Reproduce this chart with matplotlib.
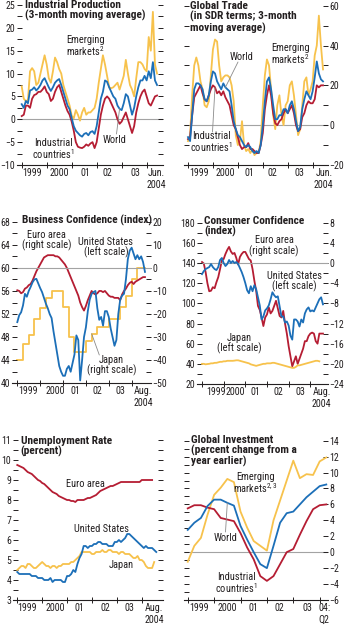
import numpy as np
import matplotlib.pyplot as plt
from matplotlib.ticker import MultipleLocator

plt.rcParams['font.family'] = ['Roboto Condensed', 'DejaVu Sans']
plt.rcParams['mathtext.fontset'] = 'custom'
plt.rcParams['mathtext.rm'] = 'Roboto Condensed'
plt.rcParams['mathtext.default'] = 'rm'
plt.rcParams['font.size'] = 7.5

BLUE = '#1c6fb8'
RED = '#b51d33'
GOLD = '#f7c24c'
GREY = '#a3a3a3'
INK = '#231f20'

# ---------------- data ----------------
# industrial production, 3-month moving average, Jan 1999 - Jun 2004
ip_emerging = [7.2, 4.5, 4.0, 4.2, 10.5, 11.2, 10.5, 7.5, 8.0, 10.0, 12.0, 14.0,
               12.0, 9.0, 8.0, 10.5, 13.5, 12.5, 11.0, 10.0, 7.5, 6.0, 4.5, 3.0,
               0.8, 0.2, 2.0, 1.0, -0.3, 1.5, 2.5, 1.0, 1.5, 1.5, 2.0, 2.5,
               4.5, 8.0, 11.0, 14.0, 12.0, 9.5, 7.0, 6.8, 7.0, 7.5, 8.0, 6.5,
               8.0, 9.5, 13.0, 10.0, 7.5, 6.5, 5.0, 9.0, 12.5, 12.5, 12.0, 11.0,
               10.5, 18.0, 15.0, 23.5, 12.0, 10.0]
ip_world = [3.3, 2.5, 4.0, 3.5, 6.3, 6.5, 7.0, 6.3, 6.8, 7.5, 8.5, 9.0,
            8.0, 7.0, 6.2, 7.0, 8.0, 8.5, 8.8, 7.5, 6.0, 4.5, 3.0, 2.2,
            0.3, -1.5, -2.5, -3.0, -3.5, -3.8, -3.2, -3.0, -3.5, -2.8, -2.6, -3.2,
            -1.5, 1.5, 4.5, 6.0, 8.5, 8.2, 7.0, 6.0, 5.0, 4.5, 3.0, 2.3,
            2.0, 3.5, 5.5, 5.0, 3.0, 1.0, 2.5, 5.0, 7.0, 8.5, 8.5, 9.5,
            8.5, 10.5, 9.0, 12.5, 8.5, 7.5]
ip_industrial = [0.7, 1.0, 3.0, 3.0, 2.5, 4.5, 5.3, 5.5, 6.0, 6.0, 6.5, 7.2,
                 6.0, 5.5, 4.0, 4.5, 6.0, 7.0, 7.5, 6.0, 4.5, 3.0, 1.8, 1.0,
                 -0.5, -2.5, -5.0, -6.0, -6.2, -6.3, -6.0, -5.5, -5.8, -5.3, -5.0, -6.3,
                 -5.0, -2.0, 1.0, 3.0, 4.5, 5.0, 4.5, 3.5, 2.5, 1.5, 0.0, -1.0,
                 -0.5, 0.5, 1.5, 0.0, -1.5, -3.0, -1.5, 1.5, 3.5, 5.0, 6.0, 6.5,
                 5.0, 3.5, 3.0, 4.0, 5.0, 5.2]

# global trade in SDR terms, Jan 1999 - Jun 2004
tr_emerging = [-8, -5, 15, 30, 34, 30, 22, 18, 10, 9, 12, 25,
               38, 43, 42, 30, 22, 24, 25, 25, 24, 20, 12, -5,
               -10, -8, 2, -10, -13, -12, -14, -12, -15, -14, -14, -8,
               10, 25, 33, 30, 18, 5, -2, 10, 15, 5, 0, 10,
               12, 20, 22, 15, 5, -5, -2, 10, 22, 24, 15, 18,
               22, 35, 40, 55, 40, 28]
tr_world = [-6, -8, 5, 18, 21, 21, 20, 18, 13, 12, 15, 22,
            27, 26, 22, 20, 18, 21, 19, 18, 17, 10, 2, -2,
            -5, -6, -8, -10, -11, -10, -11, -13, -14, -13, -14, -10,
            0, 12, 22, 24, 18, 10, 3, 3, 5, 5, 8, 8,
            6, 10, 12, 8, 2, -3, -1, 8, 13, 17, 15, 13,
            17, 24, 32, 26, 23, 22]
tr_industrial = [-7, -6, 5, 14, 16, 18, 20, 16, 13, 12, 15, 18,
                 20, 19, 16, 17, 15, 17, 14, 12, 10, 5, 0, -2,
                 -6, -10, -12, -11, -11, -9, -12, -12, -13, -14, -14, -10,
                 -4, 8, 15, 20, 15, 6, 1, 0, 2, 3, 6, 8,
                 6, 8, 10, 6, 0, -3, -2, 4, 6, 10, 12, 11,
                 11, 13, 20, 19, 20, 20]

# business confidence, Jan 1999 - Aug 2004 (Japan quarterly)
bc_us = [50.6, 51.8, 52.3, 53.5, 55.5, 55.0, 56.0, 56.7, 57.5, 58.0, 58.1, 57.3,
         56.5, 55.8, 54.8, 53.8, 53.0, 52.0, 51.3, 49.0, 47.0, 45.0, 43.0, 42.0,
         41.3, 41.3, 42.5, 43.0, 42.0, 43.5, 45.0, 48.3, 47.5, 40.5, 44.0, 48.0,
         49.7, 52.5, 54.5, 55.5, 55.8, 56.0, 53.0, 51.0, 51.5, 50.0, 52.5, 52.5,
         51.5, 49.5, 48.0, 46.5, 47.5, 52.0, 54.5, 55.2, 55.5, 58.0, 61.5, 63.0,
         63.5, 62.5, 61.5, 62.2, 61.5, 62.0, 61.0, 59.3]
bc_euro = [-9.7, -10, -11, -10.5, -9, -8.5, -7.5, -7, -5.5, -3.5, -1.5, 0,
           1.5, 3, 4.5, 5, 5.5, 5.5, 5.5, 5.5, 5, 5, 4.5, 3.5,
           2.5, 1.5, 0, -2, -4, -6, -8, -10, -12, -15, -17, -18.5,
           -16.5, -14, -12, -10, -11, -11.5, -11, -10, -10, -10.5, -10, -11,
           -12, -12.5, -12.5, -13, -13, -13, -14, -11.5, -10, -9, -7.5, -6.5,
           -6, -7, -6, -5.5, -5, -4.5, -4, -4]
bc_japan = [-40, -33, -29, -22, -17.5, -13, -10, -10, -17, -30, -36.5, -36.5,
            -31.5, -28.5, -25.5, -25.5, -22, -22, -17, -12, -5, 0, 0]

# consumer confidence, Jan 1999 - Aug 2004
cc_us = [129, 132, 134, 135, 136, 139, 136, 134, 133, 136, 143, 145,
         140, 137, 139, 143, 140, 142, 140, 141, 139, 135, 131, 126,
         120, 113, 110, 117, 112, 118, 114, 106, 98, 84, 87, 93,
         95, 98, 104, 111, 108, 106, 107, 97, 87, 87, 81, 82,
         78, 68, 64, 84, 84, 82, 77, 84, 81, 90, 94, 96,
         92, 93, 92, 96, 100, 104, 106, 99]
cc_euro = [0.2, -0.1, -1.8, -4.0, -5.6, -5.5, -4.8, -5.0, -3.8, -2.8, -1.2, 0.5,
           0.8, 1.8, 2.6, 3.2, 2.3, 1.8, 2.0, 1.0, -0.3, 1.2, 1.8, 2.2,
           2.2, 1.5, 0.8, 0.5, -1.2, -3.5, -5.5, -8.5, -9.3, -10.8, -12.5, -10.8,
           -10.2, -8.8, -10.0, -9.5, -8.5, -7.5, -9.0, -10.5, -10.8, -9.5, -12.0, -14.0,
           -16.5, -18.5, -20.5, -19.5, -18.5, -20.0, -19.0, -18.0, -17.0, -15.5, -15.5, -14.5,
           -14.0, -13.8, -14.0, -15.5, -16.0, -14.0, -14.0, -14.0]
cc_japan = [40, 40, 39.5, 39.8, 40, 40.5, 40.5, 41, 41, 41.5, 42, 42,
            42.5, 42.5, 43, 43, 43, 43, 43.2, 43.5, 43.5, 43, 42.5, 42,
            41.5, 41, 40.5, 39.5, 39, 38.5, 38, 38.5, 39, 39.5, 40, 40,
            40.5, 40.5, 40.5, 41, 41, 40.5, 40, 39.5, 39, 38.5, 38, 37.5,
            37, 36.5, 36, 36, 37, 38.5, 38.5, 39, 39.5, 40, 40.5, 41,
            41.5, 42, 42.5, 43, 43, 42.5]

# unemployment rate, percent
un_euro = [9.75, 9.7, 9.65, 9.6, 9.5, 9.4, 9.35, 9.3, 9.2, 9.1, 9.0, 8.95,
           8.85, 8.8, 8.7, 8.6, 8.5, 8.4, 8.35, 8.3, 8.2, 8.15, 8.1, 8.05,
           8.0, 8.0, 7.95, 7.95, 7.9, 8.0, 8.0, 8.0, 8.0, 8.05, 8.1, 8.1,
           8.15, 8.2, 8.25, 8.35, 8.45, 8.5, 8.55, 8.6, 8.65, 8.7, 8.7, 8.75,
           8.8, 8.85, 8.9, 8.9, 8.9, 8.9, 8.9, 8.9, 8.9, 8.9, 8.9, 8.9,
           9.0, 9.0, 9.0, 9.0, 9.0, 9.0]
un_us = [4.4, 4.3, 4.3, 4.3, 4.3, 4.3, 4.3, 4.2, 4.2, 4.2, 4.1, 4.1,
         4.1, 4.0, 4.0, 4.0, 4.1, 3.9, 4.0, 4.0, 4.0, 4.0, 3.9, 3.9,
         4.2, 4.2, 4.3, 4.5, 4.4, 4.8, 5.1, 5.3, 5.7, 5.7, 5.6, 5.7,
         5.7, 5.8, 5.8, 5.9, 5.9, 5.8, 5.8, 5.8, 5.7, 5.7, 5.7, 5.9,
         5.9, 6.0, 5.9, 6.0, 6.1, 6.3, 6.3, 6.2, 6.1, 6.0, 5.9, 5.8,
         5.7, 5.6, 5.7, 5.6, 5.6, 5.6, 5.5, 5.4]
un_japan = [4.5, 4.6, 4.7, 4.7, 4.6, 4.8, 4.8, 4.7, 4.6, 4.6, 4.7, 4.8,
            4.9, 4.8, 4.7, 4.7, 4.6, 4.7, 4.7, 4.6, 4.7, 4.7, 4.8, 4.8,
            4.8, 4.8, 4.9, 4.9, 5.0, 5.1, 5.2, 5.4, 5.4, 5.4, 5.4, 5.4,
            5.3, 5.3, 5.4, 5.4, 5.4, 5.5, 5.4, 5.4, 5.5, 5.5, 5.4, 5.4,
            5.4, 5.3, 5.4, 5.4, 5.3, 5.3, 5.3, 5.2, 5.1, 5.1, 5.2, 5.0,
            5.0, 4.9, 4.7, 4.6, 4.6, 4.6, 4.9]

# global investment, percent change from a year earlier, 1999:Q1 - 2004:Q2
inv_emerging = [-1.2, 0.8, 1.8, 4.7, 7.2, 8.1, 9.2, 8.8, 5.1, 3.1, 1.4, 0.8,
                0.2, 4.0, 6.5, 9.0, 11.5, 9.3, 9.8, 9.7, 11.4, 11.9]
inv_world = [2.8, 3.7, 4.3, 5.8, 6.6, 6.6, 6.2, 5.85, 3.3, 1.6, 0.0, -1.5,
             -2.0, 0.8, 3.7, 4.9, 5.1, 6.0, 6.9, 7.6, 8.3, 8.5]
inv_industrial = [5.5, 5.9, 5.9, 5.6, 5.4, 4.3, 4.1, 3.9, 2.4, 0.6, -0.9, -3.0,
                  -3.6, -3.0, -1.5, 0.0, 0.4, 2.2, 3.9, 5.4, 5.9, 6.0]

labels_jun = ['1999', '2000', '01', '02', '03', 'Jun.\n2004']
labels_aug = ['1999', '2000', '01', '02', '03', 'Aug.\n2004']
labels_q2 = ['1999', '2000', '01', '02', '03', '04:\nQ2']

# ---------------- layout helpers (pixel geometry) ----------------
W, H = 344, 625
fig = plt.figure(figsize=(W / 100, H / 100), dpi=100)


def make_axes(x0, x1, y0, y1):
    ax = fig.add_axes([x0 / W, 1 - y1 / H, (x1 - x0) / W, (y1 - y0) / H])
    for s in ('top', 'left', 'right'):
        ax.spines[s].set_visible(False)
    ax.spines['bottom'].set_linewidth(0.8)
    ax.spines['bottom'].set_color(INK)
    ax.patch.set_alpha(0)
    return ax


def style_y(ax, major, minor, left, right, labelleft, labelright):
    ax.yaxis.set_major_locator(MultipleLocator(major))
    ax.yaxis.set_minor_locator(MultipleLocator(minor))
    ax.tick_params(axis='y', which='both', direction='in', length=3.3, width=0.7,
                   color=INK, labelcolor=INK, left=left, right=right,
                   labelleft=labelleft, labelright=labelright, pad=1.2, labelsize=7.1)


def style_x(ax, xlim, starts, label_pos, labels):
    ax.set_xlim(*xlim)
    ax.set_xticks(starts)
    ax.set_xticklabels([])
    ax.set_xticks(label_pos, minor=True)
    ax.set_xticklabels(labels, minor=True)
    ax.tick_params(axis='x', which='major', direction='inout', length=4, width=0.7, color=INK)
    ax.tick_params(axis='x', which='minor', length=0, pad=2.2, labelsize=7.2, labelcolor=INK)


def ftext(x, y, s, **kw):
    kw.setdefault('ha', 'center')
    kw.setdefault('va', 'center')
    kw.setdefault('fontsize', 7.5)
    kw.setdefault('color', INK)
    kw.setdefault('linespacing', 0.95)
    fig.text(x / W, 1 - y / H, s, **kw)


def title(x, y, s):
    ftext(x, y, s, ha='left', fontweight='bold', fontsize=8.2, linespacing=0.98)


def leader(ax, xy, x, y):
    ax.annotate('', xy=xy, xytext=(x, H - y), textcoords='figure pixels',
                arrowprops=dict(arrowstyle='-', color='#8a8a8a', lw=0.6,
                                shrinkA=0, shrinkB=0))


def line(ax, values, color, x=None):
    if x is None:
        x = np.arange(len(values))
    ax.plot(x, values, color=color, lw=1.3, solid_joinstyle='round', zorder=3)


years_m = [0, 12, 24, 36, 48, 60]

# ---------------- Industrial Production ----------------
ax = make_axes(16.7, 163.3, 5, 165)
ax.set_ylim(-10, 25)
style_y(ax, 5, 2.5, True, True, True, False)
style_x(ax, (-2.4, 68.0), years_m, [5.1, 17.9, 30.4, 41.3, 54.4, 64.8], labels_jun)
ax.axhline(0, color=GREY, lw=0.8, zorder=1)
line(ax, ip_emerging, GOLD)
line(ax, ip_industrial, RED)
line(ax, ip_world, BLUE)
title(25, 10.9, 'Industrial Production\n(3-month moving average)')
ftext(85.5, 46.2, 'Emerging\nmarkets$^2$')
ftext(115, 140, 'World')
leader(ax, (47, ip_world[47]), 116.5, 134)
ftext(53, 149.7, 'Industrial\ncountries$^1$')

# ---------------- Global Trade ----------------
ax = make_axes(183.7, 328, 5.7, 165)
ax.set_ylim(-20, 60)
style_y(ax, 20, 10, True, True, False, True)
style_x(ax, (-2.07, 67.4), years_m, [5.2, 18.0, 29.7, 40.4, 53.8, 65.4], labels_jun)
ax.axhline(0, color=GREY, lw=0.8, zorder=1)
line(ax, tr_emerging, GOLD)
line(ax, tr_industrial, RED)
line(ax, tr_world, BLUE)
title(190.3, 17.5, 'Global Trade\n(in SDR terms; 3-month\nmoving average)')
ftext(242, 56.7, 'World')
leader(ax, (18, tr_world[18]), 238, 62)
ftext(290.3, 54.3, 'Emerging\nmarkets$^2$')
ftext(211.3, 142.3, 'Industrial\ncountries$^1$')
leader(ax, (13, tr_industrial[13]), 212.5, 132)

# ---------------- Business Confidence ----------------
ax = make_axes(11.7, 150.5, 221.7, 383.3)
ax.set_ylim(40, 68)
style_y(ax, 4, 2, True, False, True, False)
style_x(ax, (-2.94, 69.9), years_m, [5.8, 19.8, 30.3, 42.0, 53.9, 66.1], labels_aug)
ax.axhline(60, color=GREY, lw=0.8, zorder=1)
axr = ax.twinx()
for s in axr.spines.values():
    s.set_visible(False)
axr.set_ylim(-50, 20)
style_y(axr, 10, 5, False, True, False, True)
q_months = np.append(np.arange(len(bc_japan)) * 3, len(bc_us) - 1)
axr.plot(q_months, np.append(bc_japan, bc_japan[-1]), color=GOLD, lw=1.3,
         drawstyle='steps-post', zorder=2)
axr.plot(np.arange(len(bc_euro)), bc_euro, color=RED, lw=1.3, zorder=3)
ax.set_zorder(axr.get_zorder() + 1)
line(ax, bc_us, BLUE)
title(21.7, 220.7, 'Business Confidence (index)')
ftext(46.7, 240.5, 'Euro area\n(right scale)')
ftext(106, 247.2, 'United States\n(left scale)')
ftext(111.7, 365.2, 'Japan\n(right scale)')
leader(axr, (39, bc_japan[13]), 99.3, 355)

# ---------------- Consumer Confidence ----------------
ax = make_axes(197, 328, 222.7, 384)
ax.set_ylim(20, 180)
style_y(ax, 20, 10, True, False, True, False)
style_x(ax, (-2.77, 69.8), years_m, [7.6, 18.6, 29.5, 42.1, 54.4, 66.4], labels_aug)
ax.axhline(140, color=GREY, lw=0.8, zorder=1)
axr = ax.twinx()
for s in axr.spines.values():
    s.set_visible(False)
axr.set_ylim(-24, 8)
style_y(axr, 4, 2, False, True, False, True)
axr.plot(np.arange(len(cc_euro)), cc_euro, color=RED, lw=1.3, zorder=3)
ax.set_zorder(axr.get_zorder() + 1)
line(ax, cc_japan, GOLD)
line(ax, cc_us, BLUE)
title(204.3, 226.7, 'Consumer Confidence\n(index)')
ftext(274, 246, 'Euro area\n(right scale)')
ftext(294.7, 281.3, 'United States\n(left scale)')
ftext(239.7, 343.7, 'Japan\n(left scale)')

# ---------------- Unemployment Rate ----------------
ax = make_axes(12.7, 162.7, 440, 600)
ax.set_ylim(3, 11)
style_y(ax, 1, 0.5, True, True, True, False)
style_x(ax, (-2.2, 70.1), years_m, [4.5, 18.2, 29.9, 42.3, 54.0, 66.1], labels_aug)
line(ax, un_euro, RED)
line(ax, un_japan, GOLD)
line(ax, un_us, BLUE)
title(20.7, 446.2, 'Unemployment Rate\n(percent)')
ftext(85, 484, 'Euro area')
ftext(101, 529.3, 'United States')
ftext(121, 565, 'Japan')

# ---------------- Global Investment ----------------
ax = make_axes(183.7, 328, 440.7, 600)
ax.set_ylim(-6, 14)
style_y(ax, 2, 1, True, True, False, True)
ax.tick_params(axis='y', which='minor', right=False)
style_x(ax, (-0.61, 21.26), [0, 4, 8, 12, 16, 20],
        [1.7, 5.95, 10.0, 13.9, 18.1, 20.7], labels_q2)
ax.axhline(0, color=GREY, lw=0.8, zorder=1)
line(ax, inv_emerging, GOLD)
line(ax, inv_industrial, RED)
line(ax, inv_world, BLUE)
title(191, 451.3, 'Global Investment\n(percent change from a\nyear earlier)')
ftext(255.3, 483.8, 'Emerging\nmarkets$^{2,3}$')
ftext(225.3, 538.3, 'World')
leader(ax, (6, inv_world[6]), 225.5, 532)
ftext(236.3, 583.8, 'Industrial\ncountries$^1$')

fig.savefig('out.png', dpi=100)
